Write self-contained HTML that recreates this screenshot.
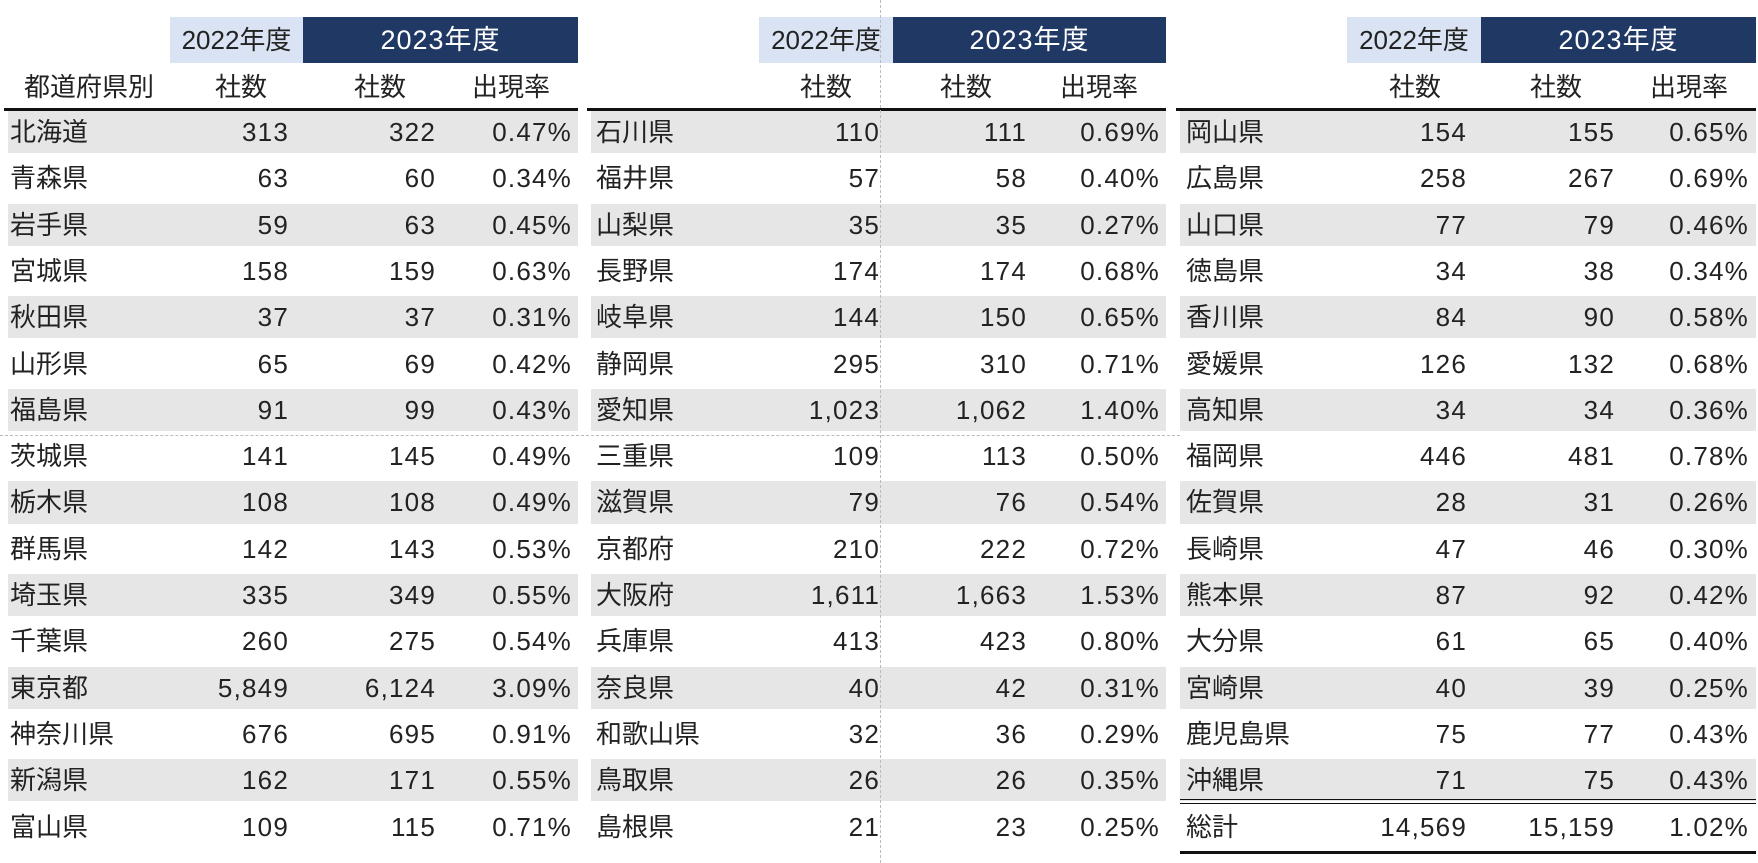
<!DOCTYPE html>
<html><head><meta charset="utf-8">
<style>
body{margin:0;width:1758px;height:863px;background:#fff;position:relative;overflow:hidden;font-family:"Liberation Sans","Noto Sans CJK JP",sans-serif;color:#222}
.a{position:absolute;white-space:nowrap;font-size:25px;line-height:46px}
.r{text-align:right}
.n{font-size:26px;letter-spacing:1.2px}
</style></head><body>
<div id="root"></div>
<script>
const names1=["北海道","青森県","岩手県","宮城県","秋田県","山形県","福島県","茨城県","栃木県","群馬県","埼玉県","千葉県","東京都","神奈川県","新潟県","富山県"];
const y22_1=["313","63","59","158","37","65","91","141","108","142","335","260","5,849","676","162","109"];
const y23_1=["322","60","63","159","37","69","99","145","108","143","349","275","6,124","695","171","115"];
const rate1=["0.47%","0.34%","0.45%","0.63%","0.31%","0.42%","0.43%","0.49%","0.49%","0.53%","0.55%","0.54%","3.09%","0.91%","0.55%","0.71%"];
const names2=["石川県","福井県","山梨県","長野県","岐阜県","静岡県","愛知県","三重県","滋賀県","京都府","大阪府","兵庫県","奈良県","和歌山県","鳥取県","島根県"];
const y22_2=["110","57","35","174","144","295","1,023","109","79","210","1,611","413","40","32","26","21"];
const y23_2=["111","58","35","174","150","310","1,062","113","76","222","1,663","423","42","36","26","23"];
const rate2=["0.69%","0.40%","0.27%","0.68%","0.65%","0.71%","1.40%","0.50%","0.54%","0.72%","1.53%","0.80%","0.31%","0.29%","0.35%","0.25%"];
const names3=["岡山県","広島県","山口県","徳島県","香川県","愛媛県","高知県","福岡県","佐賀県","長崎県","熊本県","大分県","宮崎県","鹿児島県","沖縄県","総計"];
const y22_3=["154","258","77","34","84","126","34","446","28","47","87","61","40","75","71","14,569"];
const y23_3=["155","267","79","38","90","132","34","481","31","46","92","65","39","77","75","15,159"];
const rate3=["0.65%","0.69%","0.46%","0.34%","0.58%","0.68%","0.36%","0.78%","0.26%","0.30%","0.42%","0.40%","0.25%","0.43%","0.43%","1.02%"];

const root=document.getElementById('root');
const top0=111,rowH=46.3;
function box(x,y,w,h,bg){const d=document.createElement('div');d.style.cssText=`position:absolute;left:${x}px;top:${y}px;width:${w}px;height:${h}px;background:${bg}`;root.appendChild(d);return d;}
function txt(s,x,y,w,cls,extra){const d=document.createElement('div');d.className='a '+(cls||'');d.textContent=s;d.style.cssText=`left:${x}px;top:${y}px;width:${w}px;`+(extra||'');root.appendChild(d);return d;}
const tables=[
 {names:names1,a:y22_1,b:y23_1,c:rate1,x0:8,x1:578,nx:10,ra:289,rb:436,rc:572,h22:[170,303],h23:[303,578],hc:[241,380,511],first:true},
 {names:names2,a:y22_2,b:y23_2,c:rate2,x0:591,x1:1166,nx:596,ra:880,rb:1027,rc:1160,h22:[759,893],h23:[893,1166],hc:[826,966,1099]},
 {names:names3,a:y22_3,b:y23_3,c:rate3,x0:1180,x1:1756,nx:1186,ra:1467,rb:1615,rc:1749,h22:[1347,1481],h23:[1481,1756],hc:[1415,1556,1689],total:true}
];
tables.forEach((t,ti)=>{
 let h=box(t.h22[0],17,t.h22[1]-t.h22[0],46,'#dae3f3');
 
 
 h=box(t.h23[0],17,t.h23[1]-t.h23[0],46,'#203864');
 
 
 txt('2022年度',t.h22[0],17,t.h22[1]-t.h22[0],'','text-align:center;font-size:26px');
 txt('2023年度',t.h23[0],17,t.h23[1]-t.h23[0],'','text-align:center;font-size:27px;color:#fff;letter-spacing:1px');
 if(t.first) txt('都道府県別',24,64,170,'','font-size:26px');
 txt('社数',t.hc[0]-60,64,120,'','text-align:center;font-size:26px');
 txt('社数',t.hc[1]-60,64,120,'','text-align:center;font-size:26px');
 txt('出現率',t.hc[2]-70,64,140,'','text-align:center;font-size:26px');
 const ln=box(t.x0-4,108,t.x1-t.x0+4,3,'#111');
 
 
 t.names.forEach((n,i)=>{
  const y=top0+i*rowH;
  const isTotal=t.total&&i===15;
  if(i%2===0&&!isTotal){const g=box(t.x0,y,t.x1-t.x0,rowH-4,'#e6e6e6');
   
   }
  const ty=y-2;
  let e=txt(n,t.nx,ty,200,'','font-size:26px');
  
  
  e=txt(t.a[i],t.ra-200,ty,200,'r n');
  
  
  e=txt(t.b[i],t.rb-200,ty,200,'r n');
  
  
  e=txt(t.c[i],t.rc-200,ty,200,'r n');
  
  
 });
 if(t.total){
  const yy=top0+15*rowH-3;
  box(t.x0,yy-4,t.x1-t.x0,1.5,'#111');box(t.x0,yy,t.x1-t.x0,1.5,'#111');
  box(t.x0,851,t.x1-t.x0,3,'#111');
 }
});
const hd=document.createElement('div');hd.style.cssText='position:absolute;left:0;top:435px;width:1180px;border-top:1px dashed #bbb';root.appendChild(hd);


const vd=document.createElement('div');vd.style.cssText='position:absolute;left:880px;top:0;height:863px;border-left:1px dashed #bbb';root.appendChild(vd);


</script>
</body></html>
